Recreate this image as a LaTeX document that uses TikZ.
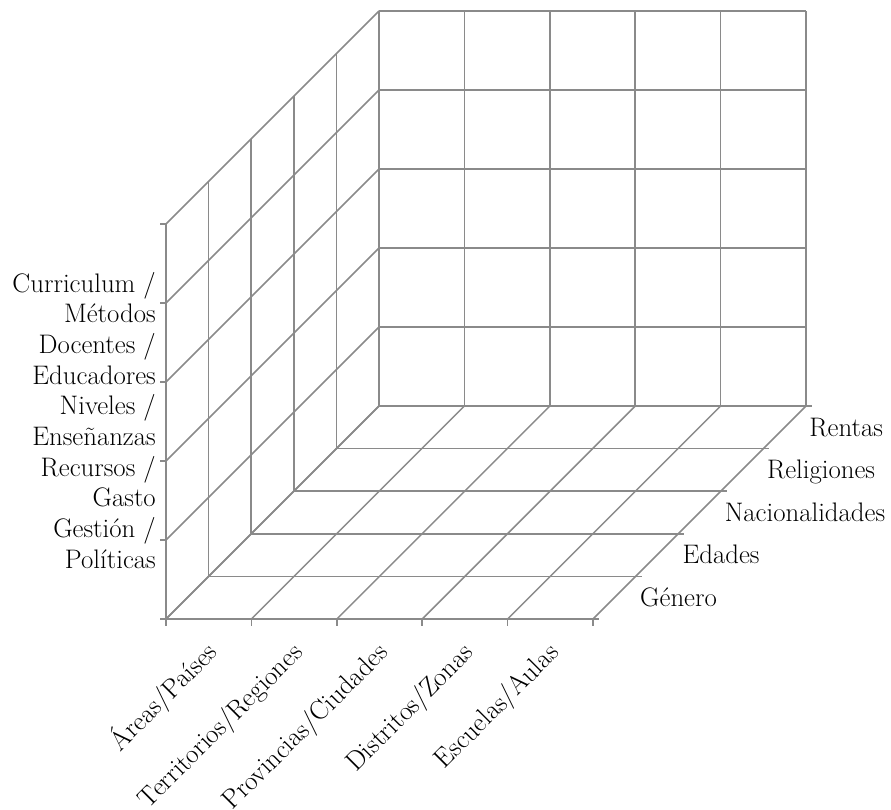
\documentclass[tikz,border=0pt]{standalone}
\usepackage{fontspec}
\definecolor{gridgray}{RGB}{138,138,138}
\begin{document}
\begin{tikzpicture}[x=1pt,y=-1pt,
  grid/.style={draw=gridgray,line width=1.5pt},
  lab/.style={font=\fontsize{26.8}{30}\selectfont,inner sep=0pt}]
\useasboundingbox (0,0) rectangle (891,809);
% back wall
\foreach \j in {0,...,5} \draw[grid] ({379+\j*85.4},406) -- ({379+\j*85.4},11);
\foreach \k in {0,...,5} \draw[grid] (379,{406-\k*79}) -- (806,{406-\k*79});
\draw[grid] (806,406) -- (812,406);
% left wall
\foreach \i in {0,...,5} \draw[grid] ({166+\i*42.6},{619-\i*42.6}) -- ({166+\i*42.6},{224-\i*42.6});
\foreach \k in {0,...,5} \draw[grid] (166,{619-\k*79}) -- (379,{406-\k*79});
% floor
\foreach \i in {0,...,5} \draw[grid] ({166+\i*42.6},{619-\i*42.6}) -- ({599+\i*42.6},{619-\i*42.6});
\foreach \j in {0,...,5} \draw[grid] ({166+\j*85.4},619) -- ({379+\j*85.4},406);
% axis ticks
\foreach \k in {0,...,5} \draw[grid] (160,{619-\k*79}) -- (166,{619-\k*79});
\foreach \j in {0,...,5} \draw[grid] ({166+\j*85.4},619) -- ({166+\j*85.4},626);
% left labels
\foreach \t [count=\n from 0] in {Curriculum /,Métodos,Docentes /,Educadores,Niveles /,Enseñanzas,Recursos /,Gasto,Gestión /,Políticas}
  \node[lab,anchor=base east] (l\n) at (156,{292+\n*30.67}) {\t};
% right labels
\foreach \t [count=\n from 0] in {Género,Edades,Nacionalidades,Religiones,Rentas}
  \node[lab,anchor=base west] (r\n) at ({640+\n*42.3},{606-\n*42.5}) {\t};
% bottom labels
\foreach \t [count=\n from 0] in {Áreas/Países,Territorios/Regiones,Provincias/Ciudades,Distritos/Zonas,Escuelas/Aulas}
  \node[lab,anchor=base east,rotate=45] (b\n) at ({166+(\n+0.5)*85.4+10},654) {\t};
\end{tikzpicture}
\end{document}
